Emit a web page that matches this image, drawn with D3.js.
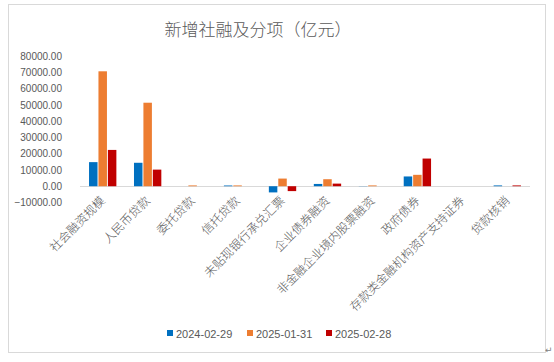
<!DOCTYPE html>
<html>
<head>
<meta charset="utf-8">
<script src="https://cdn.jsdelivr.net/npm/d3@7"></script>
<style>
	body { margin: 0; background: #fff; }
	svg { display: block; }
	.axis text { font-family: "Liberation Sans", Arial, sans-serif; font-size: 10px; fill: #595959; }
	.catLabel { font-family: "Noto Sans CJK SC", sans-serif; font-size: 12px; font-weight: 300; fill: #595959; }
	.title { font-family: "Noto Sans CJK SC", sans-serif; font-size: 17px; font-weight: 300; fill: #595959; }
	.legend text { font-family: "Liberation Sans", Arial, sans-serif; font-size: 11px; fill: #595959; }
</style>
</head>
<body>
<div id="chart"></div>
<script>
const categories = ["社会融资规模", "人民币贷款", "委托贷款", "信托贷款", "未贴现银行承兑汇票",
	"企业债券融资", "非金融企业境内股票融资", "政府债券", "存款类金融机构资产支持证券", "贷款核销"];
const seriesNames = ["2024-02-29", "2025-01-31", "2025-02-28"];
const colors = ["#0070C0", "#ED7D31", "#C00000"];
const s2024_02 = [14800, 14400, 0, 450, -3800, 1400, 100, 6000, 0, 500];
const s2025_01 = [70600, 51300, 500, 500, 4700, 4300, 500, 7000, 0, 0];
const s2025_02 = [22300, 10200, 0, 0, -3000, 1600, 0, 17000, 0, 500];
const yTicks = [-10000, 0, 10000, 20000, 30000, 40000, 50000, 60000, 70000, 80000];

const width = 554, height = 362;
const plot = { left: 80, right: 530, top: 56, bottom: 202.5 };
const series = [s2024_02, s2025_01, s2025_02];

const svg = d3.select('#chart').append('svg')
	.attr('width', width).attr('height', height);

// outer frame
svg.append('rect')
	.attr('x', 8.5).attr('y', 4.5).attr('width', 537).attr('height', 348)
	.attr('fill', 'none').attr('stroke', '#D9D9D9');

svg.append('text')
	.attr('class', 'title')
	.attr('x', 258).attr('y', 36)
	.attr('text-anchor', 'middle')
	.text('新增社融及分项（亿元）');

const x0 = d3.scaleBand().domain(categories).range([plot.left, plot.right]).paddingInner(0.35).paddingOuter(0.18);
const x1 = d3.scaleBand().domain(seriesNames).range([0, x0.bandwidth()]).padding(0.1);
const y = d3.scaleLinear().domain([-10000, 80000]).range([plot.bottom, plot.top]);

svg.append('g')
	.attr('class', 'axis y')
	.attr('transform', `translate(${plot.left - 16},0)`)
	.call(d3.axisLeft(y).tickValues(yTicks).tickSize(0).tickPadding(2).tickFormat(d3.format('.2f')))
	.call(g => g.select('.domain').remove());

// zero line
svg.append('line')
	.attr('x1', plot.left).attr('x2', plot.right)
	.attr('y1', Math.round(y(0)) + 0.5).attr('y2', Math.round(y(0)) + 0.5)
	.attr('stroke', '#D9D9D9');

const groups = svg.append('g').selectAll('g')
	.data(categories)
	.join('g')
	.attr('transform', d => `translate(${x0(d)},0)`);

groups.selectAll('rect')
	.data((c, i) => seriesNames.map((s, k) => ({ s, k, v: series[k][i] })))
	.join('rect')
	.filter(d => d.v !== 0)
	.attr('x', d => x1(d.s))
	.attr('y', d => y(Math.max(0, d.v)))
	.attr('width', x1.bandwidth())
	.attr('height', d => Math.abs(y(d.v) - y(0)))
	.attr('fill', d => colors[d.k]);

// rotated category labels
svg.append('g').selectAll('text')
	.data(categories)
	.join('text')
	.attr('class', 'catLabel')
	.attr('text-anchor', 'end')
	.attr('transform', d => `translate(${x0(d) + x0.bandwidth() / 2 + 3},${plot.bottom - 1}) rotate(-45)`)
	.text(d => d);

// legend
const legendX = [167, 247, 326];
const legend = svg.append('g').attr('class', 'legend');
seriesNames.forEach((s, k) => {
	legend.append('rect')
		.attr('x', legendX[k]).attr('y', 330)
		.attr('width', 6).attr('height', 6)
		.attr('fill', colors[k]);
	legend.append('text')
		.attr('x', legendX[k] + 9).attr('y', 337.5)
		.text(s);
});

svg.append('text')
	.attr('x', 545).attr('y', 353)
	.attr('font-size', 9).attr('fill', '#808080')
	.attr('font-family', 'DejaVu Sans')
	.text('↵');
</script>
</body>
</html>
